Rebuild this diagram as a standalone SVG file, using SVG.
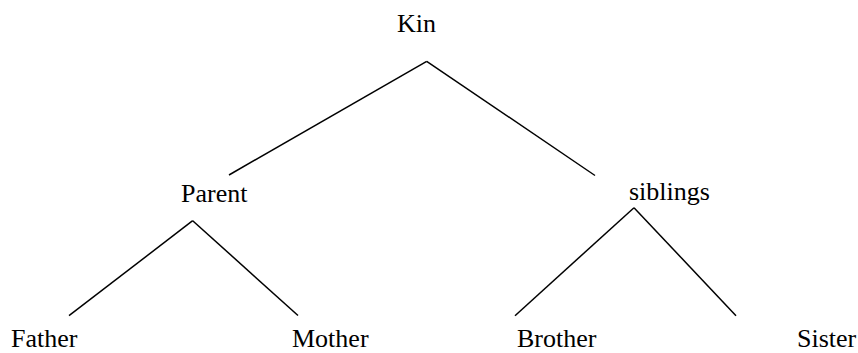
<svg xmlns="http://www.w3.org/2000/svg" width="858" height="353" viewBox="0 0 858 353">
<style>
.t{font-family:"Liberation Serif","Times New Roman",serif;font-size:26px;fill:#000}
.c line{stroke:#000;stroke-width:1.5;fill:none}
</style>
<rect width="858" height="353" fill="#fff"/>
<g class="c" id="connectors">
<line x1="426.7" y1="61.3" x2="229" y2="175"/>
<line x1="426.7" y1="61.3" x2="595" y2="175.5"/>
<line x1="192.7" y1="220.7" x2="69" y2="315.7"/>
<line x1="192.7" y1="220.7" x2="298" y2="315.5"/>
<line x1="634" y1="207.7" x2="515" y2="315.7"/>
<line x1="634" y1="207.7" x2="736" y2="315.7"/>
</g>
<g id="kin"><text class="t" x="397" y="31.5">Kin</text></g>
<g id="parent"><text class="t" x="181" y="201.5">Parent</text></g>
<g id="siblings"><text class="t" x="629" y="200">siblings</text></g>
<g id="father"><text class="t" x="11" y="347">Father</text></g>
<g id="mother"><text class="t" x="292" y="347">Mother</text></g>
<g id="brother"><text class="t" x="517" y="347">Brother</text></g>
<g id="sister"><text class="t" x="797" y="347">Sister</text></g>
</svg>
